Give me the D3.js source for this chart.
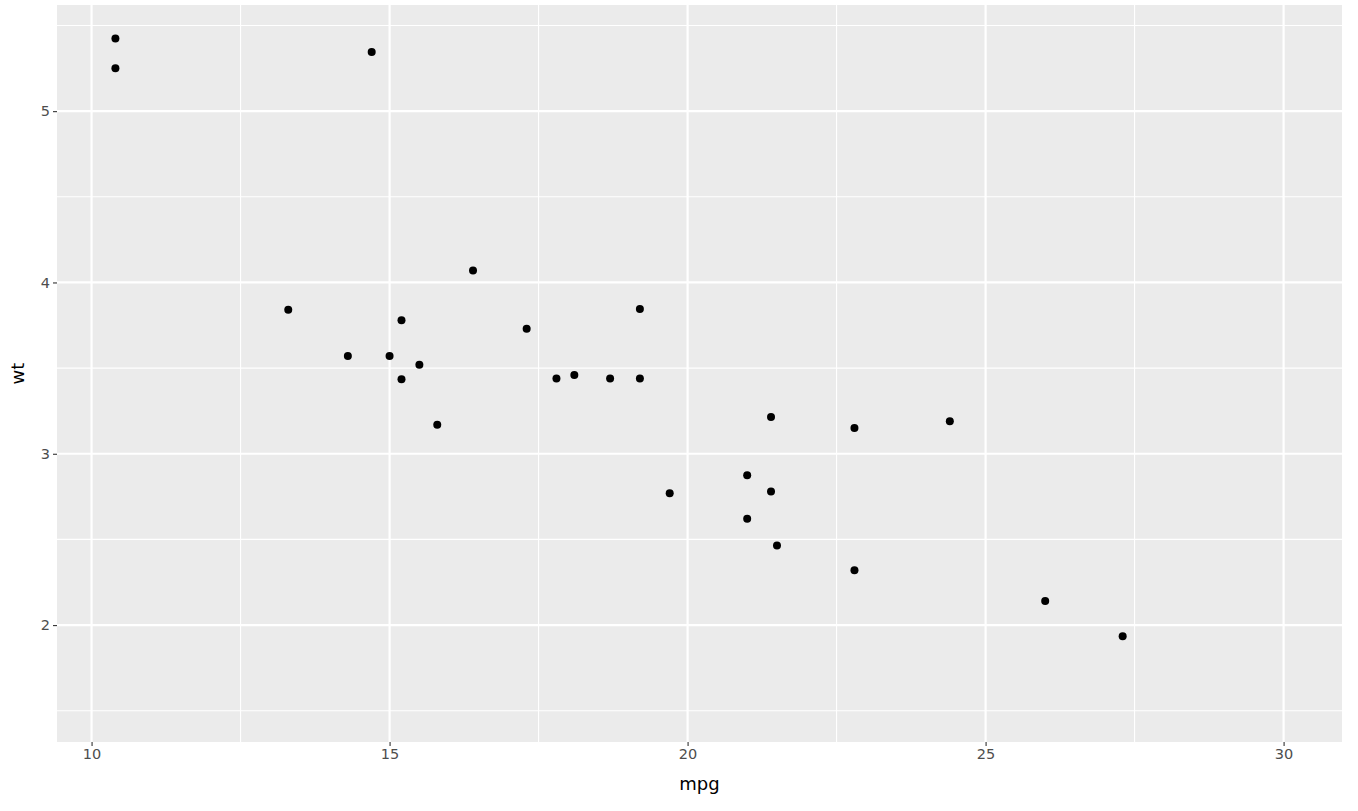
<!DOCTYPE html>
<html><head><meta charset="utf-8">
<script src="https://cdn.jsdelivr.net/npm/d3@7"></script>
<style>body{margin:0;background:#fff}svg{display:block}</style>
</head><body>
<script>
const mpg = [21.0,21.0,22.8,21.4,18.7,18.1,14.3,24.4,22.8,19.2,17.8,16.4,17.3,15.2,10.4,10.4,14.7,21.5,15.5,15.2,13.3,19.2,27.3,26.0,15.8,19.7,15.0,21.4];
const wt  = [2.620,2.875,2.320,3.215,3.440,3.460,3.570,3.190,3.150,3.440,3.440,4.070,3.730,3.780,5.250,5.424,5.345,2.465,3.520,3.435,3.840,3.845,1.935,2.140,3.170,2.770,3.570,2.780];
const xTicks = [10,15,20,25,30];
const yTicks = [2,3,4,5];
const xMinor = [12.5,17.5,22.5,27.5];
const yMinor = [1.5,2.5,3.5,4.5,5.5];

const W=1358,H=811;
const L=57,R=1342,T=5,B=742;
const font='"DejaVu Sans", sans-serif';
const svg=d3.select("body").append("svg").attr("width",W).attr("height",H);
const x=d3.scaleLinear().domain([9.42,30.98]).range([L,R]);
const y=d3.scaleLinear().domain([1.3175,5.6196]).range([B,T]);

svg.append("rect").attr("x",L).attr("y",T).attr("width",R-L).attr("height",B-T).attr("fill","#EBEBEB");
const g=svg.append("g");
g.selectAll(".xm").data(xMinor).enter().append("line").attr("x1",d=>x(d)).attr("x2",d=>x(d)).attr("y1",T).attr("y2",B).attr("stroke","#fff").attr("stroke-width",1.1);
g.selectAll(".ym").data(yMinor).enter().append("line").attr("y1",d=>y(d)).attr("y2",d=>y(d)).attr("x1",L).attr("x2",R).attr("stroke","#fff").attr("stroke-width",1.1);
g.selectAll(".xM").data(xTicks).enter().append("line").attr("x1",d=>x(d)).attr("x2",d=>x(d)).attr("y1",T).attr("y2",B).attr("stroke","#fff").attr("stroke-width",2.2);
g.selectAll(".yM").data(yTicks).enter().append("line").attr("y1",d=>y(d)).attr("y2",d=>y(d)).attr("x1",L).attr("x2",R).attr("stroke","#fff").attr("stroke-width",2.2);

const xa=svg.append("g").attr("transform",`translate(0,${B})`).call(d3.axisBottom(x).tickValues(xTicks).tickSize(4).tickPadding(3).tickFormat(d3.format("d")));
const ya=svg.append("g").attr("transform",`translate(${L},0)`).call(d3.axisLeft(y).tickValues(yTicks).tickSize(4).tickPadding(3).tickFormat(d3.format("d")));
[xa,ya].forEach(a=>{a.select(".domain").remove();a.selectAll("line").attr("stroke","#333").attr("stroke-width",1.1);a.selectAll("text").attr("fill","#4D4D4D").style("font-family",font).style("font-size","14.5px");});

svg.append("g").selectAll("circle").data(mpg.map((m,i)=>[m,wt[i]])).enter().append("circle")
 .attr("cx",d=>x(d[0])).attr("cy",d=>y(d[1])).attr("r",4).attr("fill","#000");

svg.append("text").attr("x",(L+R)/2).attr("y",790).attr("text-anchor","middle").style("font-family",font).style("font-size","18px").attr("fill","#000").text("mpg");
svg.append("text").attr("transform",`translate(24,${(T+B)/2}) rotate(-90)`).attr("text-anchor","middle").style("font-family",font).style("font-size","18px").attr("fill","#000").text("wt");
</script>
</body></html>
